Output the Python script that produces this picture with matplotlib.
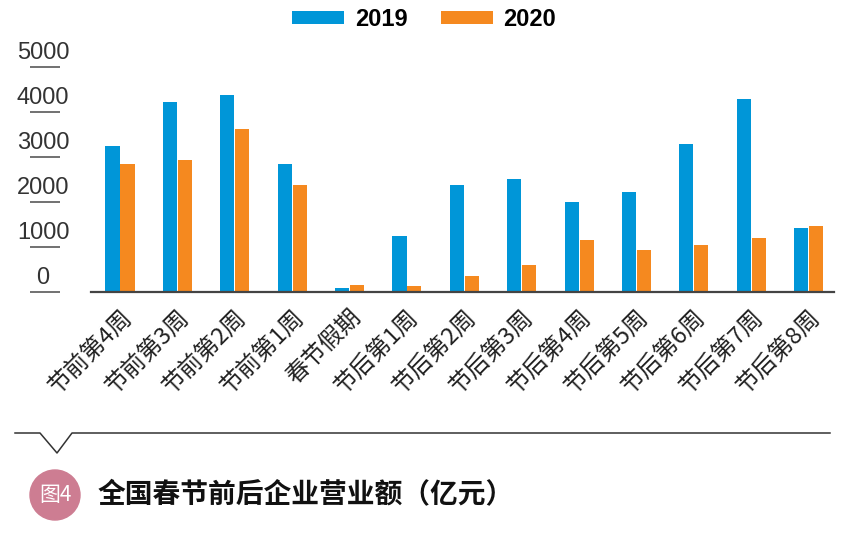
import numpy as np
import matplotlib.pyplot as plt
from matplotlib.patches import Circle
from matplotlib.lines import Line2D
import matplotlib.transforms as mtransforms

# chart data
weeks = ['节前第4周', '节前第3周', '节前第2周', '节前第1周', '春节假期',
         '节后第1周', '节后第2周', '节后第3周', '节后第4周', '节后第5周',
         '节后第6周', '节后第7周', '节后第8周']
rev_2019 = [3240, 4220, 4380, 2840, 90, 1240, 2380, 2510, 2000, 2220, 3290, 4290, 1420]
rev_2020 = [2840, 2930, 3620, 2380, 160, 130, 360, 600, 1160, 930, 1040, 1200, 1470]
y_ticks = [0, 1000, 2000, 3000, 4000, 5000]
series_names = ['2019', '2020']

blue = '#0096d8'
orange = '#f5891f'
cjk = ['Noto Sans CJK SC', 'DejaVu Sans']

fig = plt.figure(figsize=(8.62, 5.37), dpi=100)
ax = fig.add_axes([0.1056, 0.4562, 0.8619, 0.419])

x = np.arange(len(weeks))
w = 0.245
b1 = ax.bar(x - w / 2 - 0.008, rev_2019, width=w, color=blue, label=series_names[0])
b2 = ax.bar(x + w / 2 + 0.008, rev_2020, width=w, color=orange, label=series_names[1])

ax.set_xlim(-0.505, 12.44)
ax.set_ylim(0, 5000)
for s in ['top', 'right', 'left']:
    ax.spines[s].set_visible(False)
ax.spines['bottom'].set_color('#444444')
ax.spines['bottom'].set_linewidth(1.6)
ax.set_yticks([])

# x labels, rotated
ax.set_xticks(x)
ax.set_xticklabels(weeks, rotation=45, ha='right', rotation_mode='anchor',
                   fontsize=17, family=cjk, fontweight='light', color='#222222')
ax.tick_params(axis='x', length=0, pad=10)
shift = mtransforms.ScaledTranslation(0, 0, fig.dpi_scale_trans)
for lab in ax.get_xticklabels():
    lab.set_transform(lab.get_transform() + shift)

# y labels with short underline, detached from the axis
trans = mtransforms.blended_transform_factory(ax.transAxes, ax.transData)
x0 = (30 - 91) / 743
x1 = (60 - 91) / 743
for v in y_ticks:
    ax.plot([x0, x1], [v, v], transform=trans, color='#666666', lw=1.3,
            clip_on=False, solid_capstyle='butt')
    ax.text((43 - 91) / 743, v + 60, str(v), transform=trans, ha='center',
            va='bottom', fontsize=17, family='Liberation Sans', color='#333333',
            clip_on=False)

# legend at top
fig.legend(handles=[b1, b2], labels=series_names, loc='upper center',
           bbox_to_anchor=(0.492, 1.025), ncol=2, frameon=False,
           prop={'family': 'Liberation Sans', 'weight': 'bold', 'size': 17},
           handlelength=2.2, handleheight=0.42, handletextpad=0.45,
           columnspacing=1.4)

# bottom caption line with notch
fw, fh = 862, 537
px = [15, 40, 57, 72, 830]
py = [433, 433, 453, 433, 433]
fig.add_artist(Line2D([p / fw for p in px], [1 - p / fh for p in py],
                      transform=fig.transFigure, color='#333333', lw=1.1))

# pink badge and title
badge = Circle((55, fh - 495), 25, transform=mtransforms.IdentityTransform(),
               color='#cd7d92')
fig.add_artist(badge)
fig.text(55 / fw, 1 - 495 / fh, '图4', ha='center', va='center', color='white',
         fontsize=15, family=cjk, fontweight='light')
fig.text(98 / fw, 1 - 495 / fh, '全国春节前后企业营业额（亿元）', ha='left',
         va='center', fontsize=20, family=cjk, fontweight='bold', color='#111111')

fig.savefig('out.png', dpi=100)
